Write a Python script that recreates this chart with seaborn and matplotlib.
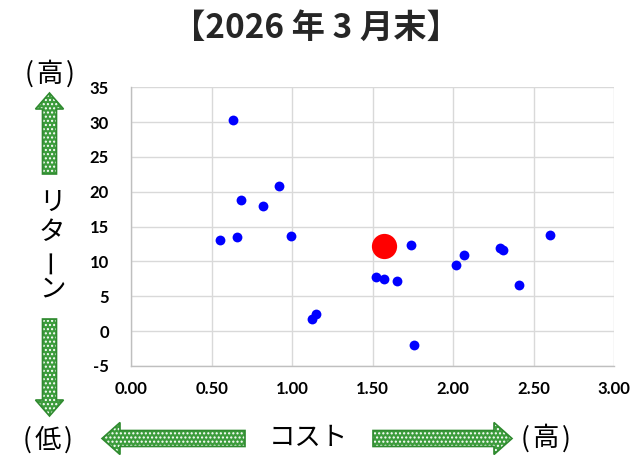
import matplotlib
matplotlib.use("Agg")
import matplotlib.pyplot as plt
from matplotlib.patches import FancyArrow
import seaborn as sns
import pandas as pd

# Funds: cost (x) vs. return (y)
cost = [0.63, 0.92, 0.68, 0.82, 0.55, 0.66, 0.99, 1.52, 1.15, 1.12,
        1.74, 1.57, 1.65, 1.76, 2.02, 2.07, 2.29, 2.31, 2.41, 2.60]
ret = [30.3, 20.9, 18.8, 18.0, 13.1, 13.45, 13.7, 7.75, 2.45, 1.8,
       12.35, 7.5, 7.25, -2.0, 9.5, 11.0, 11.9, 11.65, 6.65, 13.8]

# Highlighted point
hl_cost = [1.57]
hl_ret = [12.25]

x_ticks = [0.0, 0.5, 1.0, 1.5, 2.0, 2.5, 3.0]
y_ticks = [-5, 0, 5, 10, 15, 20, 25, 30, 35]
title = "【2026 年 3 月末】"

sns.set_theme(style="whitegrid")
jp = ["Noto Sans CJK JP", "DejaVu Sans"]
num_font = ["Lato", "DejaVu Sans"]

W, H = 630, 455
fig = plt.figure(figsize=(W / 100, H / 100), dpi=100)
fig.patch.set_facecolor("white")

# Overlay in pixel coordinates for arrows and axis captions
ov = fig.add_axes([0, 0, 1, 1], zorder=0)
ov.set_xlim(0, W)
ov.set_ylim(H, 0)
ov.axis("off")
ov.patch.set_alpha(0)

ax = fig.add_axes([131.3 / W, 1 - 366 / H, (614 - 131.3) / W, (366 - 87.3) / H], zorder=1)
ax.patch.set_facecolor("white")

df = pd.DataFrame({"cost": cost, "ret": ret})
hl = pd.DataFrame({"cost": hl_cost, "ret": hl_ret})
sns.scatterplot(data=df, x="cost", y="ret", ax=ax, color="#0000ff", s=50,
                linewidth=0, zorder=3)
sns.scatterplot(data=hl, x="cost", y="ret", ax=ax, color="#ff0000", s=330,
                linewidth=0, zorder=4)

ax.set_xlim(0, 3)
ax.set_ylim(-5, 35)
ax.set_xticks(x_ticks)
ax.set_yticks(y_ticks)
ax.set_xticklabels([f"{v:.2f}" for v in x_ticks])
ax.set_yticklabels([str(v) for v in y_ticks])
for lab in ax.get_xticklabels() + ax.get_yticklabels():
    lab.set_fontfamily(num_font)
    lab.set_fontweight("bold")
    lab.set_fontsize(12)
    lab.set_color("black")
ax.tick_params(axis="x", length=0, pad=11)
ax.tick_params(axis="y", length=0, pad=16)
ax.set_xlabel("")
ax.set_ylabel("")
ax.grid(True, color="#d9d9d9", linewidth=1.0)
for side in ["top", "right"]:
    ax.spines[side].set_visible(False)
for side in ["left", "bottom"]:
    ax.spines[side].set_color("#bfbfbf")
    ax.spines[side].set_linewidth(1.0)

fig.text(316 / W, 1 - 28 / H, title, ha="center", va="center",
         fontsize=24, fontweight="bold", family=jp)


def arrow(x, y, dx, dy, width, head_width, head_length):
    kw = dict(width=width, head_width=head_width, head_length=head_length,
              length_includes_head=True)
    ov.add_patch(FancyArrow(x, y, dx, dy, facecolor="#3c9c3c", edgecolor="none", **kw))
    ov.add_patch(FancyArrow(x, y, dx, dy, facecolor="none", edgecolor="white",
                            hatch="....", linewidth=0, **kw))
    ov.add_patch(FancyArrow(x, y, dx, dy, facecolor="none", edgecolor="#2f8a2f",
                            linewidth=1.2, **kw))


plt.rcParams["hatch.linewidth"] = 1.0
arrow(49.5, 174, 0, -81, 14, 28, 16)
arrow(49.5, 319, 0, 97, 14, 28, 16)
arrow(245, 438.5, -143, 0, 16, 32, 18)
arrow(373, 438.5, 139, 0, 16, 32, 18)

cap = dict(ha="center", va="center", fontsize=19, family=jp, color="black")


def bracketed(xc, y, word):
    # word in parentheses with a little breathing room on each side
    ov.text(xc - 20, y, "(", **cap)
    ov.text(xc, y, word, **cap)
    ov.text(xc + 21, y, ")", **cap)


bracketed(49.5, 74, "高")
bracketed(47.5, 440, "低")
bracketed(545.5, 439, "高")
ov.text(308, 437, "コスト", **cap)
ov.text(52, 202, "リ", **cap)
ov.text(52, 233, "タ", **cap)
ov.text(52, 261, "ー", rotation=90, **cap)
ov.text(52, 289, "ン", **cap)

fig.savefig("out.png", dpi=100)
